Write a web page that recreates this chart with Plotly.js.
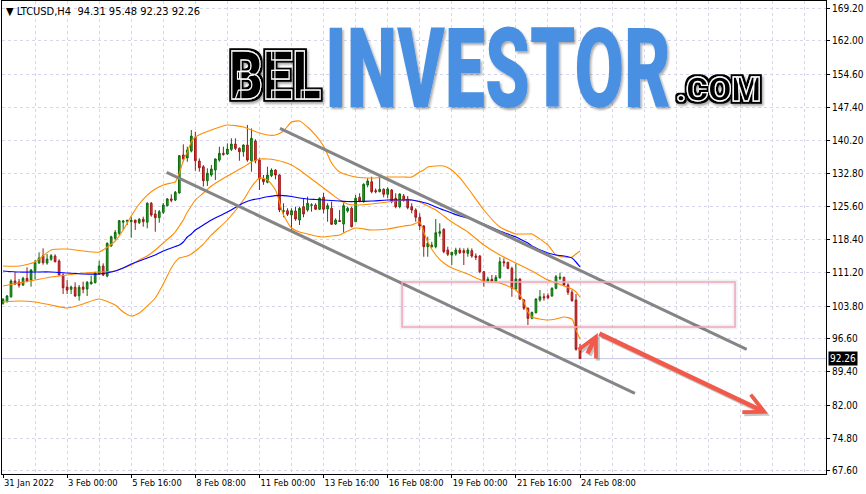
<!DOCTYPE html>
<html>
<head>
<meta charset="utf-8">
<script src="https://cdn.plot.ly/plotly-3.0.1.min.js"></script>
<style>
html,body{margin:0;padding:0;background:#fff;}
#chart{width:866px;height:494px;}
</style>
</head>
<body>
<div id="chart"></div>
<script>
// ---------- DATA ----------
const symbolLabel = 'LTCUSD,H4';
const lastOHLC = ['94.31', '95.48', '92.23', '92.26'];
const lastPrice = 92.26;

const xTickIdx = [0, 16, 32, 48, 64, 80, 96, 112, 128, 144];
const xTickLabels = ['31 Jan 2022', '3 Feb 00:00', '5 Feb 16:00', '8 Feb 08:00', '11 Feb 00:00',
  '13 Feb 16:00', '16 Feb 08:00', '19 Feb 00:00', '21 Feb 16:00', '24 Feb 08:00'];
const yTickLabels = ['169.20', '162.00', '154.60', '147.40', '140.20', '132.80', '125.60', '118.40',
  '111.20', '103.80', '96.60', '89.40', '82.00', '74.80', '67.60'];

const open = [104.40,104.83,105.84,109.29,109.07,108.41,109.88,109.51,111.55,113.29,
  114.84,113.24,114.05,114.77,113.68,110.61,107.97,107.47,107.91,106.06,
  107.97,107.53,108.63,108.92,110.82,112.58,110.39,116.97,118.66,119.76,
  122.20,122.40,122.30,122.68,122.09,122.84,122.18,126.35,124.00,123.19,
  124.36,125.82,127.29,127.07,128.61,136.95,136.29,137.81,140.82,135.62,
  134.37,131.30,132.56,133.65,135.83,137.31,137.16,138.18,139.35,138.40,
  137.66,139.13,135.69,140.00,135.83,131.67,130.95,132.40,133.65,132.55,
  124.55,124.72,123.78,124.66,122.68,125.60,124.88,125.90,125.97,125.03,
  127.66,125.10,125.25,121.80,122.57,121.80,124.66,125.25,122.30,127.66,
  126.70,130.36,131.08,129.13,128.89,129.42,128.32,129.26,127.44,125.60,
  127.95,127.29,125.60,124.88,123.28,121.37,116.82,116.82,116.82,119.76,
  120.64,116.09,114.99,115.21,116.09,115.94,115.36,115.94,114.77,114.77,
  111.33,109.14,109.66,109.29,110.01,113.52,113.39,112.07,107.53,109.73,
  105.12,103.30,101.10,102.33,105.12,105.84,106.06,106.00,107.69,109.90,
  110.10,108.41,106.81,105.12,94.31];
const high = [105.56,106.22,109.66,111.20,109.73,110.23,112.29,111.92,113.90,115.58,
  116.46,115.21,115.21,115.15,114.05,110.98,109.51,108.26,109.00,108.41,
  109.14,109.29,110.45,111.33,113.74,113.17,117.78,119.23,120.48,122.68,
  122.68,122.70,123.41,122.68,123.10,123.41,126.57,126.63,124.88,124.88,
  126.41,127.51,128.32,129.05,136.95,139.28,138.76,142.42,142.05,136.21,
  134.74,134.02,134.76,136.21,138.76,138.76,139.50,140.60,140.60,138.62,
  139.28,143.52,142.79,140.40,136.33,132.55,134.37,134.02,133.80,132.71,
  126.35,125.25,125.25,125.60,125.60,127.44,127.80,126.35,126.35,127.66,
  128.67,126.35,126.70,123.06,124.88,126.35,125.60,125.60,128.17,128.54,
  130.73,131.83,132.18,129.60,132.18,129.64,129.86,129.48,128.54,128.54,
  128.39,127.95,126.35,125.25,124.15,121.58,119.01,117.90,122.90,121.96,
  120.86,116.82,115.72,116.60,116.60,116.46,116.60,116.46,115.36,114.99,
  111.48,110.23,110.61,110.61,114.49,114.27,113.52,112.43,113.17,109.88,
  105.34,103.52,102.55,105.49,107.31,106.59,106.59,107.91,110.61,111.11,
  110.23,108.78,107.31,106.44,95.48];
const low = [104.09,104.53,105.62,108.41,107.83,108.19,109.00,108.04,109.66,113.02,
  112.87,112.87,113.74,113.39,110.45,106.44,106.44,106.44,105.84,104.97,
  106.59,106.00,108.63,108.78,110.61,110.39,110.10,116.82,118.28,119.39,
  120.49,121.60,118.80,120.49,121.80,121.21,120.86,123.41,120.11,122.09,
  124.00,125.64,126.57,126.85,128.45,135.47,135.47,137.53,133.50,133.28,
  130.01,130.15,132.19,131.46,135.47,136.79,136.95,137.81,138.03,135.69,
  136.57,135.47,133.28,135.11,129.26,130.40,130.73,132.10,131.61,124.40,
  123.28,123.56,120.49,122.53,121.58,123.28,124.51,124.51,124.88,124.88,
  124.15,122.31,121.58,121.58,122.31,119.90,124.29,121.07,122.30,126.57,
  126.48,129.87,128.54,128.54,128.76,127.66,127.44,126.35,125.25,125.25,
  126.70,125.03,124.15,122.31,120.49,114.62,114.62,116.60,116.46,119.01,
  115.37,114.77,112.80,114.84,115.21,112.80,114.62,114.40,113.90,110.98,
  108.04,108.92,108.92,109.00,109.79,112.43,111.85,105.84,107.31,105.12,
  102.93,99.64,100.89,102.20,104.75,104.97,105.27,105.84,107.47,109.51,
  108.19,106.22,104.75,94.00,92.23];
const close = [105.27,106.00,109.29,108.63,108.35,109.88,109.29,111.70,113.39,114.33,
  113.30,114.12,114.84,113.52,110.61,107.82,107.31,107.97,106.00,107.91,
  107.47,109.00,109.07,111.11,112.58,110.61,117.56,119.01,119.97,122.53,
  122.45,122.60,122.60,122.09,122.84,122.31,126.35,123.78,123.19,124.51,
  125.97,127.29,127.00,128.76,136.79,136.07,138.03,141.10,135.69,134.15,
  131.30,132.92,133.88,136.07,137.31,137.09,138.25,139.35,138.40,137.66,
  139.13,135.83,140.60,135.69,131.67,131.08,132.55,133.65,132.55,124.90,
  124.72,123.93,124.72,122.90,125.25,124.00,126.35,126.00,125.03,127.44,
  125.03,125.82,121.74,122.68,122.35,125.82,125.25,121.21,127.44,126.85,
  130.51,131.24,128.89,128.91,129.42,128.32,129.48,126.70,125.60,128.39,
  127.07,125.38,124.88,123.28,121.37,116.82,117.56,117.19,119.89,120.11,
  115.72,115.15,115.58,116.09,115.50,115.50,116.09,114.77,114.49,111.33,
  109.14,109.73,109.29,110.10,113.52,113.30,112.07,107.69,109.73,105.34,
  103.30,101.10,102.42,105.34,105.84,105.62,105.62,107.69,110.23,110.10,
  108.41,106.81,104.97,94.31,92.26];

// indicator readings (bar index -> price)
const bandIdx = [0,4,8,12,16,20,24,28,30,32,34,36,38,40,42,43,44,45,46,47,48,50,52,56,60,62,64,66,68,70,
  72,74,76,78,80,82,84,86,88,92,96,100,102,104,105,106,108,110,112,114,116,120,124,128,129,130,131,132,
  136,138,140,142,143,144];
const bbUpper = [112.58,112.58,113.46,116.10,116.31,115.88,115.66,118.07, 120.48,123.56,126.19,128.16,129.48,130.36,
  130.80,131.02,132.99,135.63,137.60,139.79,140.89, 141.77,142.43,143.53,143.09,142.43,141.77,141.33,141.33,142.21,
  144.18,144.40,143.09,141.33,138.92,135.19,133.21,132.55,132.11, 131.90,132.11,132.11,132.11,133.21,133.65,134.31,134.53,
  134.53,133.65,131.90,129.70,124.87,121.14, 119.61,119.61,119.61,119.61,119.61, 117.19,115.00,114.56,114.56,115.22,115.88];
const bbMiddle = [108.20,108.85,109.51,110.17,110.61,111.05,111.27,111.49, 112.15,112.80,113.90,114.78,116.10,117.63,
  119.17,120.05,121.36,122.68,124.43,125.75,127.07, 128.60,130.14,132.33,134.31,135.41,136.06,136.06,135.84,135.41,
  134.75,133.65,132.33,131.02,129.70,128.38,127.07,126.19,125.97, 126.19,126.63,127.07,127.07,126.63,126.19,125.75,124.87,
  123.56,122.24,121.14,120.05,117.19,115.00, 113.24,112.80,112.37,111.93,111.49, 109.51,108.85,108.20,107.54,106.88,105.78];
const bbLower = [104.68,104.90,104.68,104.03,103.37,104.25,105.34,104.03, 102.49,101.61,102.27,103.81,105.56,108.63,
  112.15,113.46,114.34,114.56,114.78,115.22,115.88, 117.41,119.39,122.68,127.07,129.92,131.90,131.46,129.26,123.78,
  120.92,120.05,119.61,119.17,118.95,119.17,119.39,120.26,120.92, 120.48,120.70,121.36,121.58,122.24,120.05,117.85,115.00,
  113.24,112.15,111.49,110.83,109.29,108.85, 107.32,106.22,104.68,102.49,101.39, 100.73,100.95,101.39,100.95,98.54,96.57];
const maBlue = [111.49,111.27,111.27,111.27,111.05,110.83,110.83,111.49, 112.15,113.02,113.68,114.34,115.00,115.88,
  116.53,116.86,117.19,117.85,118.95,119.61,120.48, 121.58,122.68,124.43,126.41,127.07,127.40,127.79,128.05,128.05,
  127.83,127.51,127.29,127.18,127.07,126.96,126.85,126.74,126.74, 126.85,127.07,127.07,127.07,126.74,126.52,126.30,125.53,
  124.87,124.21,123.56,123.12,121.80,120.26, 118.95,118.51,118.07,117.63,116.97, 115.44,115.00,114.78,114.34,113.46,112.37];

// drawn analysis objects (bar index / price)
const channelUpperIdx = [69.13, 185.6], channelUpperPrice = [142.80, 94.30];
const channelLowerIdx = [40.85, 157.7], channelLowerPrice = [133.15, 84.65];
const zoneIdx = [99.6, 182.7], zonePrice = [99.20, 109.07];
const forecastIdx = [145.7, 148.45, 190.9], forecastPrice = [93.05, 97.9, 80.2];
const logoParts = ['BEL', 'INVESTOR', '.COM'];

// ---------- CHART ----------
const barIdx = close.map((_, i) => i);
const FONT = 'Liberation Sans Narrow, Arial Narrow, DejaVu Sans Condensed, Liberation Sans, sans-serif';
const orange = '#ff8c00';

const traces = [
  {
    type: 'candlestick', x: barIdx, open: open, high: high, low: low, close: close,
    increasing: {line: {color: '#0b6b0b', width: 1}, fillcolor: '#29a329'},
    decreasing: {line: {color: '#a31515', width: 1}, fillcolor: '#dc3b3b'},
    whiskerwidth: 0, hoverinfo: 'skip'
  },
  {type: 'scatter', mode: 'lines', x: bandIdx, y: bbUpper, line: {color: orange, width: 1.1, shape: 'spline', smoothing: 0.6}, hoverinfo: 'skip'},
  {type: 'scatter', mode: 'lines', x: bandIdx, y: bbMiddle, line: {color: orange, width: 1.1, shape: 'spline', smoothing: 0.6}, hoverinfo: 'skip'},
  {type: 'scatter', mode: 'lines', x: bandIdx, y: bbLower, line: {color: orange, width: 1.1, shape: 'spline', smoothing: 0.6}, hoverinfo: 'skip'},
  {type: 'scatter', mode: 'lines', x: bandIdx, y: maBlue, line: {color: '#0000ff', width: 1.2, shape: 'spline', smoothing: 0.6}, hoverinfo: 'skip'},
  {type: 'scatter', mode: 'lines', x: channelUpperIdx, y: channelUpperPrice, line: {color: '#858585', width: 3}, hoverinfo: 'skip'},
  {type: 'scatter', mode: 'lines', x: channelLowerIdx, y: channelLowerPrice, line: {color: '#858585', width: 3}, hoverinfo: 'skip'}
];

const arrowColor = '#f15a4b';
const shadowColor = 'rgba(0,0,0,0.22)';
const annotations = [];
[[shadowColor, 0.5, -0.45], [arrowColor, 0, 0]].forEach(([col, dx, dy]) => {
  for (let k = 0; k < forecastIdx.length - 1; k++) {
    annotations.push({
      x: forecastIdx[k + 1] + dx, y: forecastPrice[k + 1] + dy,
      ax: forecastIdx[k] + dx, ay: forecastPrice[k] + dy,
      xref: 'x', yref: 'y', axref: 'x', ayref: 'y',
      text: '', showarrow: true, arrowhead: 5, arrowsize: 0.85, arrowwidth: 4.5, arrowcolor: col
    });
  }
});
annotations.push({
  xref: 'paper', yref: 'paper', x: 0.003, y: 0.996, xanchor: 'left', yanchor: 'top', showarrow: false,
  text: '\u25BC ' + symbolLabel + '\u00a0\u00a0' + lastOHLC.join(' '),
  font: {family: FONT, size: 11, color: '#000'}
});
annotations.push({
  xref: 'paper', yref: 'y', x: 1, y: lastPrice, xanchor: 'left', yanchor: 'middle', xshift: 2,
  showarrow: false, text: lastPrice.toFixed(2), bgcolor: '#000', borderpad: 1,
  font: {family: FONT, size: 10, color: '#fff'}
});

const gridCol = '#d6d6ee';
const layout = {
  width: 866, height: 494,
  margin: {l: 2, r: 40, t: 1, b: 20, pad: 0},
  paper_bgcolor: '#fff', plot_bgcolor: '#fff',
  showlegend: false,
  font: {family: FONT, size: 11, color: '#000'},
  boxgap: 0.4,
  xaxis: {
    type: 'linear', range: [-0.25, 205.39], rangeslider: {visible: false},
    tickvals: xTickIdx, ticktext: xTickLabels, ticklabelposition: 'outside right', tickangle: 0,
    ticks: 'outside', ticklen: 3, tickcolor: '#000',
    showgrid: true, gridcolor: gridCol, griddash: '3px,3px', gridwidth: 1,
    minor: {tick0: 0, dtick: 8, showgrid: true, gridcolor: gridCol, griddash: '3px,3px', gridwidth: 1, ticks: ''},
    showline: true, linecolor: '#000', linewidth: 1, mirror: true, zeroline: false, fixedrange: true,
    tickfont: {family: FONT, size: 9.3, color: '#000'}
  },
  yaxis: {
    side: 'right', range: [66.94, 170.74],
    tickvals: yTickLabels.map(Number), ticktext: yTickLabels,
    ticks: 'outside', ticklen: 3, tickcolor: '#000',
    showgrid: true, gridcolor: gridCol, griddash: '3px,3px', gridwidth: 1,
    showline: true, linecolor: '#000', linewidth: 1, mirror: true, zeroline: false, fixedrange: true,
    tickfont: {family: FONT, size: 10, color: '#000'}
  },
  shapes: [
    {type: 'line', layer: 'below', xref: 'paper', yref: 'y', x0: 0, x1: 1, y0: lastPrice, y1: lastPrice,
     line: {color: '#c8c8e6', width: 1}},
    {type: 'rect', xref: 'x', yref: 'y', x0: zoneIdx[0], x1: zoneIdx[1], y0: zonePrice[0], y1: zonePrice[1],
     line: {color: 'rgba(0,0,0,0.06)', width: 5}, fillcolor: 'rgba(0,0,0,0)'},
    {type: 'rect', xref: 'x', yref: 'y', x0: zoneIdx[0], x1: zoneIdx[1], y0: zonePrice[0], y1: zonePrice[1],
     line: {color: '#f2a6bb', width: 1.5}, fillcolor: 'rgba(0,0,0,0)'}
  ],
  annotations: annotations
};

function addLogo(gd) {
  const NS = 'http://www.w3.org/2000/svg';
  const svg = gd.querySelector('svg.main-svg');
  const defs = document.createElementNS(NS, 'defs');
  defs.innerHTML =
    '<filter id="logoShadow" x="-10%" y="-20%" width="130%" height="150%">' +
    '<feDropShadow dx="1.5" dy="2" stdDeviation="1.3" flood-color="#000" flood-opacity="0.35"/></filter>' +
    '<filter id="logoRing" x="-10%" y="-20%" width="130%" height="150%">' +
    '<feMorphology in="SourceAlpha" operator="dilate" radius="2.2" result="d"/>' +
    '<feFlood flood-color="#000"/><feComposite in2="d" operator="in" result="o"/>' +
    '<feMerge><feMergeNode in="o"/><feMergeNode in="SourceGraphic"/></feMerge></filter>';
  svg.appendChild(defs);
  const g = document.createElementNS(NS, 'g');
  g.setAttribute('filter', 'url(#logoShadow)');
  svg.appendChild(g);
  const spec = [
    {t: logoParts[0], x: 229, y: 99, size: 66, w: 92, fill: '#000', ring: true},
    {t: logoParts[1], x: 325, y: 107, size: 112, w: 346, fill: '#4a90e2', ring: false},
    {t: logoParts[2], x: 676, y: 101, size: 34, w: 85, fill: '#000', ring: true}
  ];
  spec.forEach(s => {
    const t = document.createElementNS(NS, 'text');
    t.textContent = s.t;
    t.setAttribute('x', 0);
    t.setAttribute('y', 0);
    t.setAttribute('font-family', 'Roboto, Lato, Inter, sans-serif');
    t.setAttribute('font-weight', '900');
    t.setAttribute('font-size', s.size);
    t.setAttribute('fill', s.fill);
    if (s.ring) {
      t.setAttribute('stroke', '#fff');
      t.setAttribute('stroke-width', '1.3');
      t.setAttribute('filter', 'url(#logoRing)');
    }
    g.appendChild(t);
    const natural = t.getComputedTextLength() || s.w;
    const sx = s.w / natural;
    t.setAttribute('transform', 'translate(' + s.x + ',' + s.y + ') scale(' + sx.toFixed(4) + ',1)');
  });
}

Plotly.newPlot('chart', traces, layout, {staticPlot: true, displayModeBar: false}).then(addLogo);
</script>
</body>
</html>
